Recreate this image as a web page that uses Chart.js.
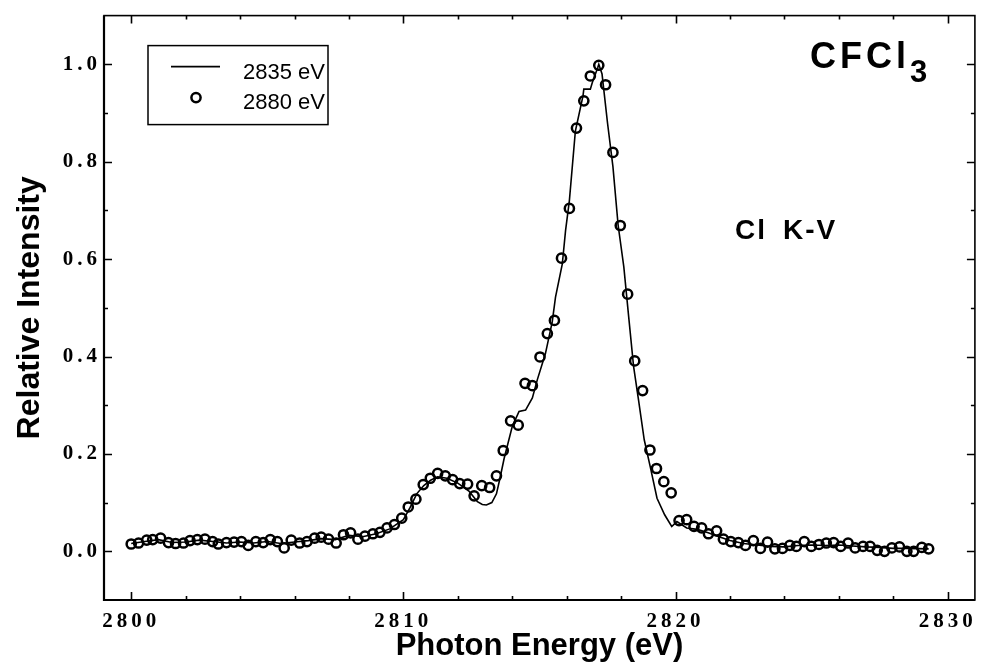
<!DOCTYPE html>
<html>
<head>
<meta charset="utf-8">
<script src="https://cdn.jsdelivr.net/npm/chart.js@4/dist/chart.umd.min.js"></script>
<style>
  html, body { margin: 0; padding: 0; background: #fff; }
  #wrap { width: 982px; height: 667px; }
</style>
</head>
<body>
<div id="wrap"><canvas id="myChart" width="982" height="667"></canvas></div>
<script>
// 2880 eV excitation (circles)
var circE = [2800.00, 2800.27, 2800.57, 2800.79, 2801.08, 2801.37, 2801.63, 2801.92, 2802.16, 2802.43,
    2802.71, 2802.99, 2803.20, 2803.50, 2803.78, 2804.05, 2804.30, 2804.58, 2804.85, 2805.11,
    2805.37, 2805.62, 2805.88, 2806.19, 2806.46, 2806.74, 2806.98, 2807.25, 2807.53, 2807.80,
    2808.06, 2808.33, 2808.59, 2808.88, 2809.14, 2809.40, 2809.67, 2809.94, 2810.18, 2810.46,
    2810.73, 2810.99, 2811.26, 2811.54, 2811.81, 2812.07, 2812.36, 2812.60, 2812.88, 2813.17,
    2813.42, 2813.67, 2813.94, 2814.22, 2814.47, 2814.74, 2815.02, 2815.29, 2815.55, 2815.81,
    2816.10, 2816.36, 2816.63, 2816.87, 2817.18, 2817.43, 2817.70, 2817.97, 2818.24, 2818.50,
    2818.79, 2819.06, 2819.30, 2819.57, 2819.84, 2820.13, 2820.41, 2820.68, 2820.96, 2821.21,
    2821.51, 2821.76, 2822.03, 2822.31, 2822.57, 2822.86, 2823.12, 2823.38, 2823.65, 2823.93,
    2824.20, 2824.44, 2824.73, 2824.99, 2825.27, 2825.54, 2825.81, 2826.07, 2826.34, 2826.60,
    2826.89, 2827.15, 2827.41, 2827.68, 2827.95, 2828.23, 2828.50, 2828.75, 2829.05, 2829.30];
var circI = [0.015, 0.017, 0.023, 0.024, 0.027, 0.018, 0.016, 0.017, 0.022, 0.024,
    0.025, 0.020, 0.015, 0.018, 0.019, 0.020, 0.012, 0.020, 0.018, 0.024,
    0.020, 0.007, 0.023, 0.017, 0.020, 0.027, 0.029, 0.025, 0.017, 0.034,
    0.038, 0.025, 0.031, 0.036, 0.039, 0.048, 0.055, 0.068, 0.091, 0.107,
    0.137, 0.150, 0.160, 0.155, 0.147, 0.139, 0.138, 0.114, 0.135, 0.131,
    0.155, 0.207, 0.268, 0.259, 0.345, 0.340, 0.399, 0.447, 0.474, 0.602,
    0.704, 0.869, 0.925, 0.976, 0.998, 0.958, 0.819, 0.669, 0.528, 0.391,
    0.330, 0.208, 0.170, 0.143, 0.120, 0.063, 0.065, 0.051, 0.048, 0.036,
    0.042, 0.025, 0.020, 0.018, 0.012, 0.022, 0.006, 0.019, 0.005, 0.006,
    0.012, 0.010, 0.020, 0.010, 0.014, 0.017, 0.018, 0.010, 0.017, 0.007,
    0.010, 0.010, 0.002, 0.000, 0.007, 0.009, 0.000, 0.000, 0.008, 0.005];

// 2835 eV excitation (solid line)
var lineE = [2800.0, 2800.5, 2801.0, 2801.5, 2802.0, 2802.5, 2803.0, 2803.5, 2804.0, 2804.5,
    2805.0, 2805.5, 2806.0, 2806.5, 2807.0, 2807.5, 2808.0, 2808.5, 2809.0, 2809.5,
    2810.0, 2810.25, 2810.49, 2810.75, 2811.0, 2811.26, 2811.6, 2812.0, 2812.42, 2812.72,
    2812.9, 2813.05, 2813.25, 2813.42, 2813.55, 2813.7, 2814.0, 2814.25, 2814.49, 2814.74,
    2814.92, 2815.22, 2815.47, 2815.59, 2815.84, 2815.96, 2816.1, 2816.32, 2816.6, 2816.63,
    2816.87, 2816.94, 2817.14, 2817.18, 2817.3, 2817.5, 2817.7, 2817.89, 2818.1, 2818.28,
    2818.46, 2818.64, 2818.85, 2819.07, 2819.32, 2819.6, 2819.86, 2820.05, 2820.41, 2820.8,
    2821.2, 2821.6, 2822.0, 2822.5, 2823.0, 2823.5, 2824.0, 2824.5, 2825.0, 2825.5,
    2826.0, 2826.5, 2827.0, 2827.5, 2828.0, 2828.5, 2829.3];
var lineI = [0.016, 0.020, 0.024, 0.018, 0.019, 0.023, 0.020, 0.017, 0.019, 0.017,
    0.020, 0.016, 0.019, 0.022, 0.026, 0.024, 0.033, 0.030, 0.036, 0.046,
    0.065, 0.090, 0.118, 0.135, 0.146, 0.153, 0.150, 0.140, 0.123, 0.102,
    0.096, 0.095, 0.100, 0.118, 0.150, 0.190, 0.256, 0.287, 0.290, 0.315,
    0.352, 0.406, 0.471, 0.522, 0.590, 0.659, 0.720, 0.863, 0.935, 0.949,
    0.949, 0.962, 0.993, 1.000, 0.980, 0.880, 0.790, 0.670, 0.584, 0.481,
    0.379, 0.311, 0.229, 0.174, 0.109, 0.075, 0.051, 0.061, 0.048, 0.045,
    0.038, 0.030, 0.022, 0.016, 0.013, 0.010, 0.009, 0.012, 0.013, 0.012,
    0.013, 0.011, 0.009, 0.008, 0.006, 0.006, 0.005];

var xMajor = [2800, 2810, 2820, 2830];
var xMinor = [2802, 2804, 2806, 2808, 2812, 2814, 2816, 2818, 2822, 2824, 2826, 2828];
var yMajor = [0.0, 0.2, 0.4, 0.6, 0.8, 1.0];
var yMinor = [0.1, 0.3, 0.5, 0.7, 0.9];

var seriesNames = ['2835 eV', '2880 eV'];

var SERIF = '"Liberation Serif", "Times New Roman", serif';
var SANS = '"Liberation Sans", Arial, Helvetica, sans-serif';

/**
 * tick labels in the figure are bold serif with wide tracking,
 * so wrap the scale's label drawing once to add letter spacing.
 */
function spaceLabels(scale) {
    if (scale._spaced) return;
    var orig = scale.drawLabels;
    scale.drawLabels = function (area) {
        var c = this.ctx;
        c.save();
        c.letterSpacing = '4px';
        orig.call(this, area);
        c.restore();
    };
    scale._spaced = true;
}

// frame, inward ticks, legend box and the two text labels
var decorPlugin = {
    id: 'decor',
    afterDatasetsDraw(chart) {
        var c = chart.ctx, a = chart.chartArea;
        var xs = chart.scales.x, ys = chart.scales.y;
        c.save();
        c.strokeStyle = '#000';
        c.lineWidth = 1.6;
        c.strokeRect(a.left, a.top, a.right - a.left, a.bottom - a.top);
        // left and bottom edges are a bit heavier
        c.lineWidth = 2.2;
        c.beginPath();
        c.moveTo(a.left, a.top); c.lineTo(a.left, a.bottom); c.lineTo(a.right, a.bottom);
        c.stroke();

        c.lineWidth = 1.6;
        c.beginPath();
        function xt(v, len) {
            var p = Math.round(xs.getPixelForValue(v)) + 0.5;
            c.moveTo(p, a.bottom); c.lineTo(p, a.bottom - len);
            c.moveTo(p, a.top); c.lineTo(p, a.top + len);
        }
        function yt(v, len) {
            var p = Math.round(ys.getPixelForValue(v)) + 0.5;
            c.moveTo(a.left, p); c.lineTo(a.left + len, p);
            c.moveTo(a.right, p); c.lineTo(a.right - len, p);
        }
        xMajor.forEach(v => xt(v, 8));
        xMinor.forEach(v => xt(v, 4));
        yMajor.forEach(v => yt(v, 8));
        yMinor.forEach(v => yt(v, 4));
        c.stroke();

        // legend
        var lx = a.left + 44, ly = a.top + 30;
        c.lineWidth = 1.5;
        c.strokeRect(lx, ly, 180, 79);
        var ds = chart.data.datasets;
        c.beginPath();
        c.lineWidth = ds[0].borderWidth;
        c.moveTo(lx + 23, ly + 21); c.lineTo(lx + 72, ly + 21);
        c.stroke();
        c.beginPath();
        c.lineWidth = ds[1].pointBorderWidth;
        c.arc(lx + 48, ly + 52, ds[1].pointRadius, 0, Math.PI * 2);
        c.stroke();
        c.fillStyle = '#000';
        c.font = '22px ' + SANS;
        c.textBaseline = 'alphabetic';
        c.textAlign = 'left';
        c.fillText(ds[0].label, lx + 95, ly + 33);
        c.fillText(ds[1].label, lx + 95, ly + 63);

        // compound name with subscript
        c.font = 'bold 36px ' + SANS;
        c.letterSpacing = '4px';
        var nx = a.right - 165;
        c.fillText('CFCl', nx, a.top + 52);
        var w = c.measureText('CFCl').width;
        c.letterSpacing = '0px';
        c.font = 'bold 31px ' + SANS;
        c.fillText('3', nx + w, a.top + 66);

        c.font = 'bold 28px ' + SANS;
        c.letterSpacing = '2px';
        c.fillText('Cl', a.left + 631, a.top + 223);
        c.fillText('K-V', a.left + 679, a.top + 223);
        c.restore();
    }
};

var data = {
    datasets: [{
        label: seriesNames[0],
        data: lineE.map((x, i) => ({ x: x, y: lineI[i] })),
        showLine: true,
        borderColor: '#000',
        borderWidth: 1.6,
        pointRadius: 0,
        pointHoverRadius: 0,
        tension: 0,
        order: 2
    }, {
        label: seriesNames[1],
        data: circE.map((x, i) => ({ x: x, y: circI[i] })),
        showLine: false,
        pointStyle: 'circle',
        pointRadius: 4.6,
        pointBorderWidth: 2.5,
        pointBorderColor: '#000',
        pointBackgroundColor: 'rgba(255,255,255,0)',
        order: 1
    }]
};

var gr_config = {
    type: 'scatter',
    data: data,
    options: {
        responsive: false,
        animation: false,
        events: [],
        layout: { padding: { top: 15, right: 2, left: 0, bottom: 0 } },
        plugins: {
            legend: { display: false },
            tooltip: { enabled: false },
            title: { display: false }
        },
        scales: {
            x: {
                type: 'linear',
                min: 2799,
                max: 2831,
                grid: { display: false, drawTicks: false },
                border: { display: false },
                afterBuildTicks: s => { s.ticks = xMajor.map(v => ({ value: v })); },
                afterFit: s => { s.height = 67; spaceLabels(s); },
                ticks: {
                    color: '#000',
                    padding: 9,
                    maxRotation: 0,
                    font: { family: SERIF, size: 21, weight: 'bold' },
                    callback: v => String(v)
                },
                title: {
                    display: true,
                    text: 'Photon Energy (eV)',
                    color: '#000',
                    font: { family: SANS, size: 31, weight: 'bold' },
                    padding: { top: 0, bottom: 2 }
                }
            },
            y: {
                type: 'linear',
                min: -0.1,
                max: 1.1,
                grid: { display: false, drawTicks: false },
                border: { display: false },
                afterBuildTicks: s => { s.ticks = yMajor.map(v => ({ value: v })); },
                afterFit: s => { s.width = 104; spaceLabels(s); },
                ticks: {
                    color: '#000',
                    padding: 3,
                    font: { family: SERIF, size: 21, weight: 'bold' },
                    callback: v => v.toFixed(1)
                },
                title: {
                    display: true,
                    text: 'Relative Intensity',
                    color: '#000',
                    font: { family: SANS, size: 32, weight: 'bold' },
                    padding: { top: 11, bottom: 0 }
                }
            }
        }
    },
    plugins: [decorPlugin]
};

var ctx = document.getElementById('myChart');
var myChart = new Chart(ctx, gr_config);
</script>
</body>
</html>
